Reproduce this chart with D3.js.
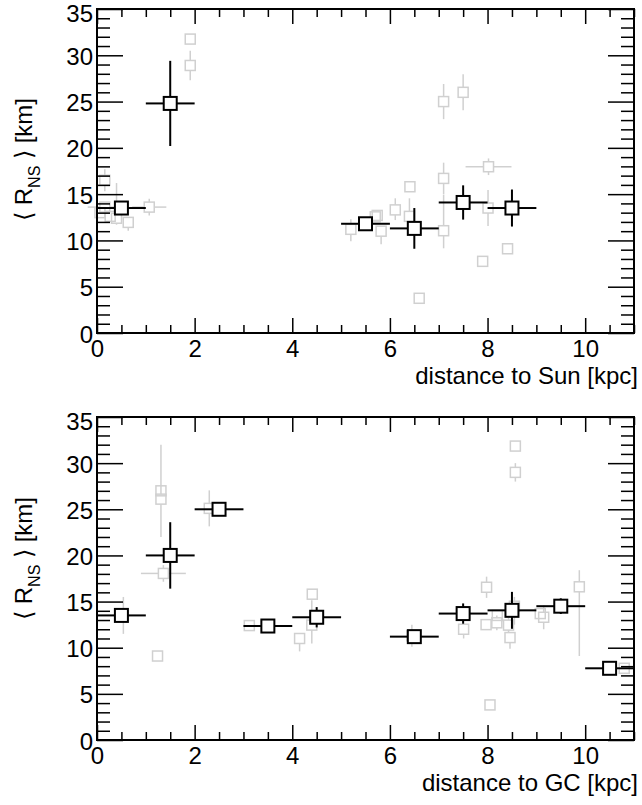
<!DOCTYPE html>
<html><head><meta charset="utf-8">
<script src="https://cdn.jsdelivr.net/npm/d3@7"></script>
<style>
body{margin:0;background:#fff}
svg text{font-family:"Liberation Sans",Arial,Helvetica,sans-serif;fill:#000}
</style>
</head><body>
<svg id="chart" width="642" height="805"></svg>
<script>
// ---------- data: panel 1 (distance to Sun) ----------
const sunBinX    = [0.5, 1.5, 5.5, 6.5, 7.5, 8.5];
const sunBinXErr = [0.5, 0.5, 0.5, 0.5, 0.5, 0.5];
const sunBinY    = [13.5, 24.8, 11.8, 11.3, 14.1, 13.5];
const sunBinYErr = [0.4, 4.6, 0.4, 2.2, 1.85, 2.0];

const sunObjX    = [1.91, 1.91, 0.16, 0.16, 0.27, 0.40, 0.64, 1.07, 0.06, 7.10, 7.50, 8.02, 7.10, 7.10, 6.41, 6.11, 6.40, 5.70, 5.74, 5.20, 5.82, 8.01, 8.41, 7.90, 6.60];
const sunObjY    = [31.75, 28.9, 16.5, 13.6, 12.6, 12.4, 11.95, 13.6, 13.0, 25.0, 26.0, 17.96, 16.7, 11.05, 15.8, 13.3, 12.6, 12.55, 12.7, 11.2, 11.0, 13.5, 9.1, 7.74, 3.75];
const sunObjXErr = [0, 0, 0.1, 0.35, 0, 0, 0, 0.35, 0, 0, 0, 0.47, 0, 0, 0, 0, 0, 0, 0, 0, 0, 0, 0, 0, 0];
const sunObjYLo  = [0.3, 1.6, 1.2, 0.5, 0.5, 0.7, 0.9, 0.9, 0.5, 1.9, 1.95, 0.9, 1.7, 1.9, 0, 1.1, 0.4, 0, 0, 1.3, 1.4, 1.95, 0.3, 0.3, 0];
const sunObjYHi  = [0.3, 1.6, 1.2, 0.5, 0.5, 3.8, 0.4, 0.9, 0.5, 1.9, 1.95, 0.9, 1.7, 3.9, 0, 1.25, 1.95, 0, 0, 1.1, 0.4, 1.95, 0.3, 0.3, 0];

// ---------- data: panel 2 (distance to GC) ----------
const gcBinX    = [0.5, 1.5, 2.5, 3.5, 4.5, 6.5, 7.5, 8.5, 9.5, 10.5];
const gcBinXErr = [0.5, 0.5, 0.5, 0.5, 0.5, 0.5, 0.5, 0.5, 0.5, 0.5];
const gcBinY    = [13.5, 20.0, 25.0, 12.35, 13.3, 11.2, 13.7, 14.05, 14.5, 7.77];
const gcBinYErr = [0.4, 3.6, 0.4, 0.4, 1.1, 0.5, 1.1, 2.0, 0.85, 0.4];

const gcObjX    = [1.31, 1.31, 2.30, 1.36, 0.54, 1.24, 3.12, 8.57, 8.57, 4.41, 4.15, 4.40, 6.45, 7.98, 7.51, 7.97, 8.19, 8.20, 8.43, 8.46, 9.08, 9.15, 9.88, 10.8, 8.05, 8.55];
const gcObjY    = [27.0, 26.1, 25.1, 18.05, 13.5, 9.1, 12.4, 31.85, 29.0, 15.8, 11.0, 12.45, 11.3, 16.55, 12.0, 12.5, 12.7, 13.5, 12.45, 11.1, 13.7, 13.3, 16.6, 7.77, 3.8, 14.5];
const gcObjXErr = [0, 0, 0, 0.46, 0, 0, 0.12, 0, 0, 0, 0, 0, 0, 0, 0, 0, 0, 0, 0.1, 0, 0, 0, 0, 0, 0, 0];
const gcObjYLo  = [0.3, 4.1, 1.95, 0.9, 2.0, 0.3, 0.3, 0.3, 1.0, 0, 1.4, 2.0, 1.2, 1.15, 1.0, 0.3, 0.8, 0, 0.8, 1.2, 0.3, 1.3, 7.5, 0.3, 0, 2.0];
const gcObjYHi  = [0.3, 5.9, 1.95, 0.9, 2.0, 0.3, 0.3, 0.3, 1.0, 0, 0.4, 2.7, 1.2, 1.15, 0.3, 0.3, 0.8, 0, 0.8, 0.3, 0.3, 1.3, 1.8, 0.3, 0, 1.0];

// ---------- axis ticks ----------
const xMajorTicks = [0, 2, 4, 6, 8, 10];
const yMajorTicks = [0, 5, 10, 15, 20, 25, 30, 35];
const xDomain = [0, 11];
const yDomain = [0, 35];
const xTitles = ["distance to Sun [kpc]", "distance to GC [kpc]"];

// ---------- layout ----------
const svg = d3.select("#chart");
const left = 97, right = 634;
const panels = [
  {top: 9, bottom: 333, titleOff: 89, xTitle: xTitles[0],
   bin: {x: sunBinX, xe: sunBinXErr, y: sunBinY, ye: sunBinYErr},
   obj: {x: sunObjX, xe: sunObjXErr, y: sunObjY, lo: sunObjYLo, hi: sunObjYHi}},
  {top: 417, bottom: 740, titleOff: 80, xTitle: xTitles[1],
   bin: {x: gcBinX, xe: gcBinXErr, y: gcBinY, ye: gcBinYErr},
   obj: {x: gcObjX, xe: gcObjXErr, y: gcObjY, lo: gcObjYLo, hi: gcObjYHi}}
];
const FS = 24;
const grey = "#d0d0d0";

const xMinor = d3.range(0, 11.01, 0.5).filter(v => v % 2 !== 0);
const yMinor = d3.range(0, 35.01, 1).filter(v => v % 5 !== 0);

panels.forEach(p => {
  const x = d3.scaleLinear().domain(xDomain).range([left, right]);
  const y = d3.scaleLinear().domain(yDomain).range([p.bottom, p.top]);
  const g = svg.append("g");

  // data: individual objects (grey)
  const gg = g.append("g");
  const hs = 5;
  p.obj.x.forEach((xv, i) => {
    const cx = x(xv), cy = y(p.obj.y[i]);
    const segs = [];
    const yHi = y(p.obj.y[i] + p.obj.hi[i]), yLo = y(p.obj.y[i] - p.obj.lo[i]);
    if (cy - yHi > hs) segs.push([cx, cy - hs, cx, yHi]);
    if (yLo - cy > hs) segs.push([cx, cy + hs, cx, yLo]);
    const xl = x(xv - p.obj.xe[i]), xr = x(xv + p.obj.xe[i]);
    if (cx - xl > hs) { segs.push([cx - hs, cy, xl, cy]); segs.push([cx + hs, cy, xr, cy]); }
    segs.forEach(s => gg.append("line").attr("x1", s[0]).attr("y1", s[1]).attr("x2", s[2]).attr("y2", s[3])
      .attr("stroke", grey).attr("stroke-width", 1.5));
    gg.append("rect").attr("x", cx - hs).attr("y", cy - hs).attr("width", 2 * hs).attr("height", 2 * hs)
      .attr("fill", "none").attr("stroke", grey).attr("stroke-width", 1.5);
  });

  // data: binned averages (black)
  const bg = g.append("g");
  const bs = 6.5;
  p.bin.x.forEach((xv, i) => {
    const cx = x(xv), cy = y(p.bin.y[i]);
    const segs = [];
    const yHi = y(p.bin.y[i] + p.bin.ye[i]), yLo = y(p.bin.y[i] - p.bin.ye[i]);
    if (cy - yHi > bs) { segs.push([cx, cy - bs, cx, yHi]); segs.push([cx, cy + bs, cx, yLo]); }
    segs.push([cx - bs, cy, x(xv - p.bin.xe[i]), cy]);
    segs.push([cx + bs, cy, x(xv + p.bin.xe[i]), cy]);
    segs.forEach(s => bg.append("line").attr("x1", s[0]).attr("y1", s[1]).attr("x2", s[2]).attr("y2", s[3])
      .attr("stroke", "#000").attr("stroke-width", 2));
    bg.append("rect").attr("x", cx - bs).attr("y", cy - bs).attr("width", 2 * bs).attr("height", 2 * bs)
      .attr("fill", "#fff").attr("stroke", "#000").attr("stroke-width", 2);
  });

  // axes (ticks inside)
  const mk = (axis, tr) => {
    const a = g.append("g").attr("transform", tr).call(axis);
    a.select(".domain").remove();
    a.selectAll("line").attr("stroke", "#000").attr("stroke-width", 1.5);
    return a;
  };
  const xb = mk(d3.axisBottom(x).tickValues(xMajorTicks).tickSize(-15).tickFormat(d3.format("d")), `translate(0,${p.bottom})`);
  xb.selectAll("text").attr("y", 7).attr("dy", "0.71em").attr("font-size", FS).attr("font-family", null);
  mk(d3.axisBottom(x).tickValues(xMinor).tickSize(-8).tickFormat(""), `translate(0,${p.bottom})`);
  mk(d3.axisTop(x).tickValues(xMajorTicks).tickSize(-15).tickFormat(""), `translate(0,${p.top})`);
  mk(d3.axisTop(x).tickValues(xMinor).tickSize(-8).tickFormat(""), `translate(0,${p.top})`);
  const yl = mk(d3.axisLeft(y).tickValues(yMajorTicks).tickSize(-26).tickFormat(d3.format("d")), `translate(${left},0)`);
  yl.selectAll("text").attr("x", -4).attr("dy", "0.38em").attr("font-size", FS).attr("font-family", null);
  // keep the topmost label inside the page
  yl.selectAll("text").filter(d => d === 35).attr("dy", "0.53em");
  mk(d3.axisLeft(y).tickValues(yMinor).tickSize(-13).tickFormat(""), `translate(${left},0)`);
  mk(d3.axisRight(y).tickValues(yMajorTicks).tickSize(-26).tickFormat(""), `translate(${right},0)`);
  mk(d3.axisRight(y).tickValues(yMinor).tickSize(-13).tickFormat(""), `translate(${right},0)`);

  // frame
  g.append("rect").attr("x", left).attr("y", p.top).attr("width", right - left).attr("height", p.bottom - p.top)
    .attr("fill", "none").attr("stroke", "#000").attr("stroke-width", 2);

  // x title
  g.append("text").attr("x", right + 4).attr("y", p.bottom + 51).attr("text-anchor", "end")
    .attr("font-size", FS).text(p.xTitle);

  // y title
  const yt = g.append("text").attr("transform", `translate(32,${p.top + p.titleOff}) rotate(-90)`)
    .attr("text-anchor", "end").attr("font-size", FS);
  yt.append("tspan").text("\u27E8 R");
  yt.append("tspan").attr("font-size", 16).attr("dy", 8).text("NS");
  yt.append("tspan").attr("dy", -8).text(" \u27E9 [km]");
});
</script>
</body></html>
